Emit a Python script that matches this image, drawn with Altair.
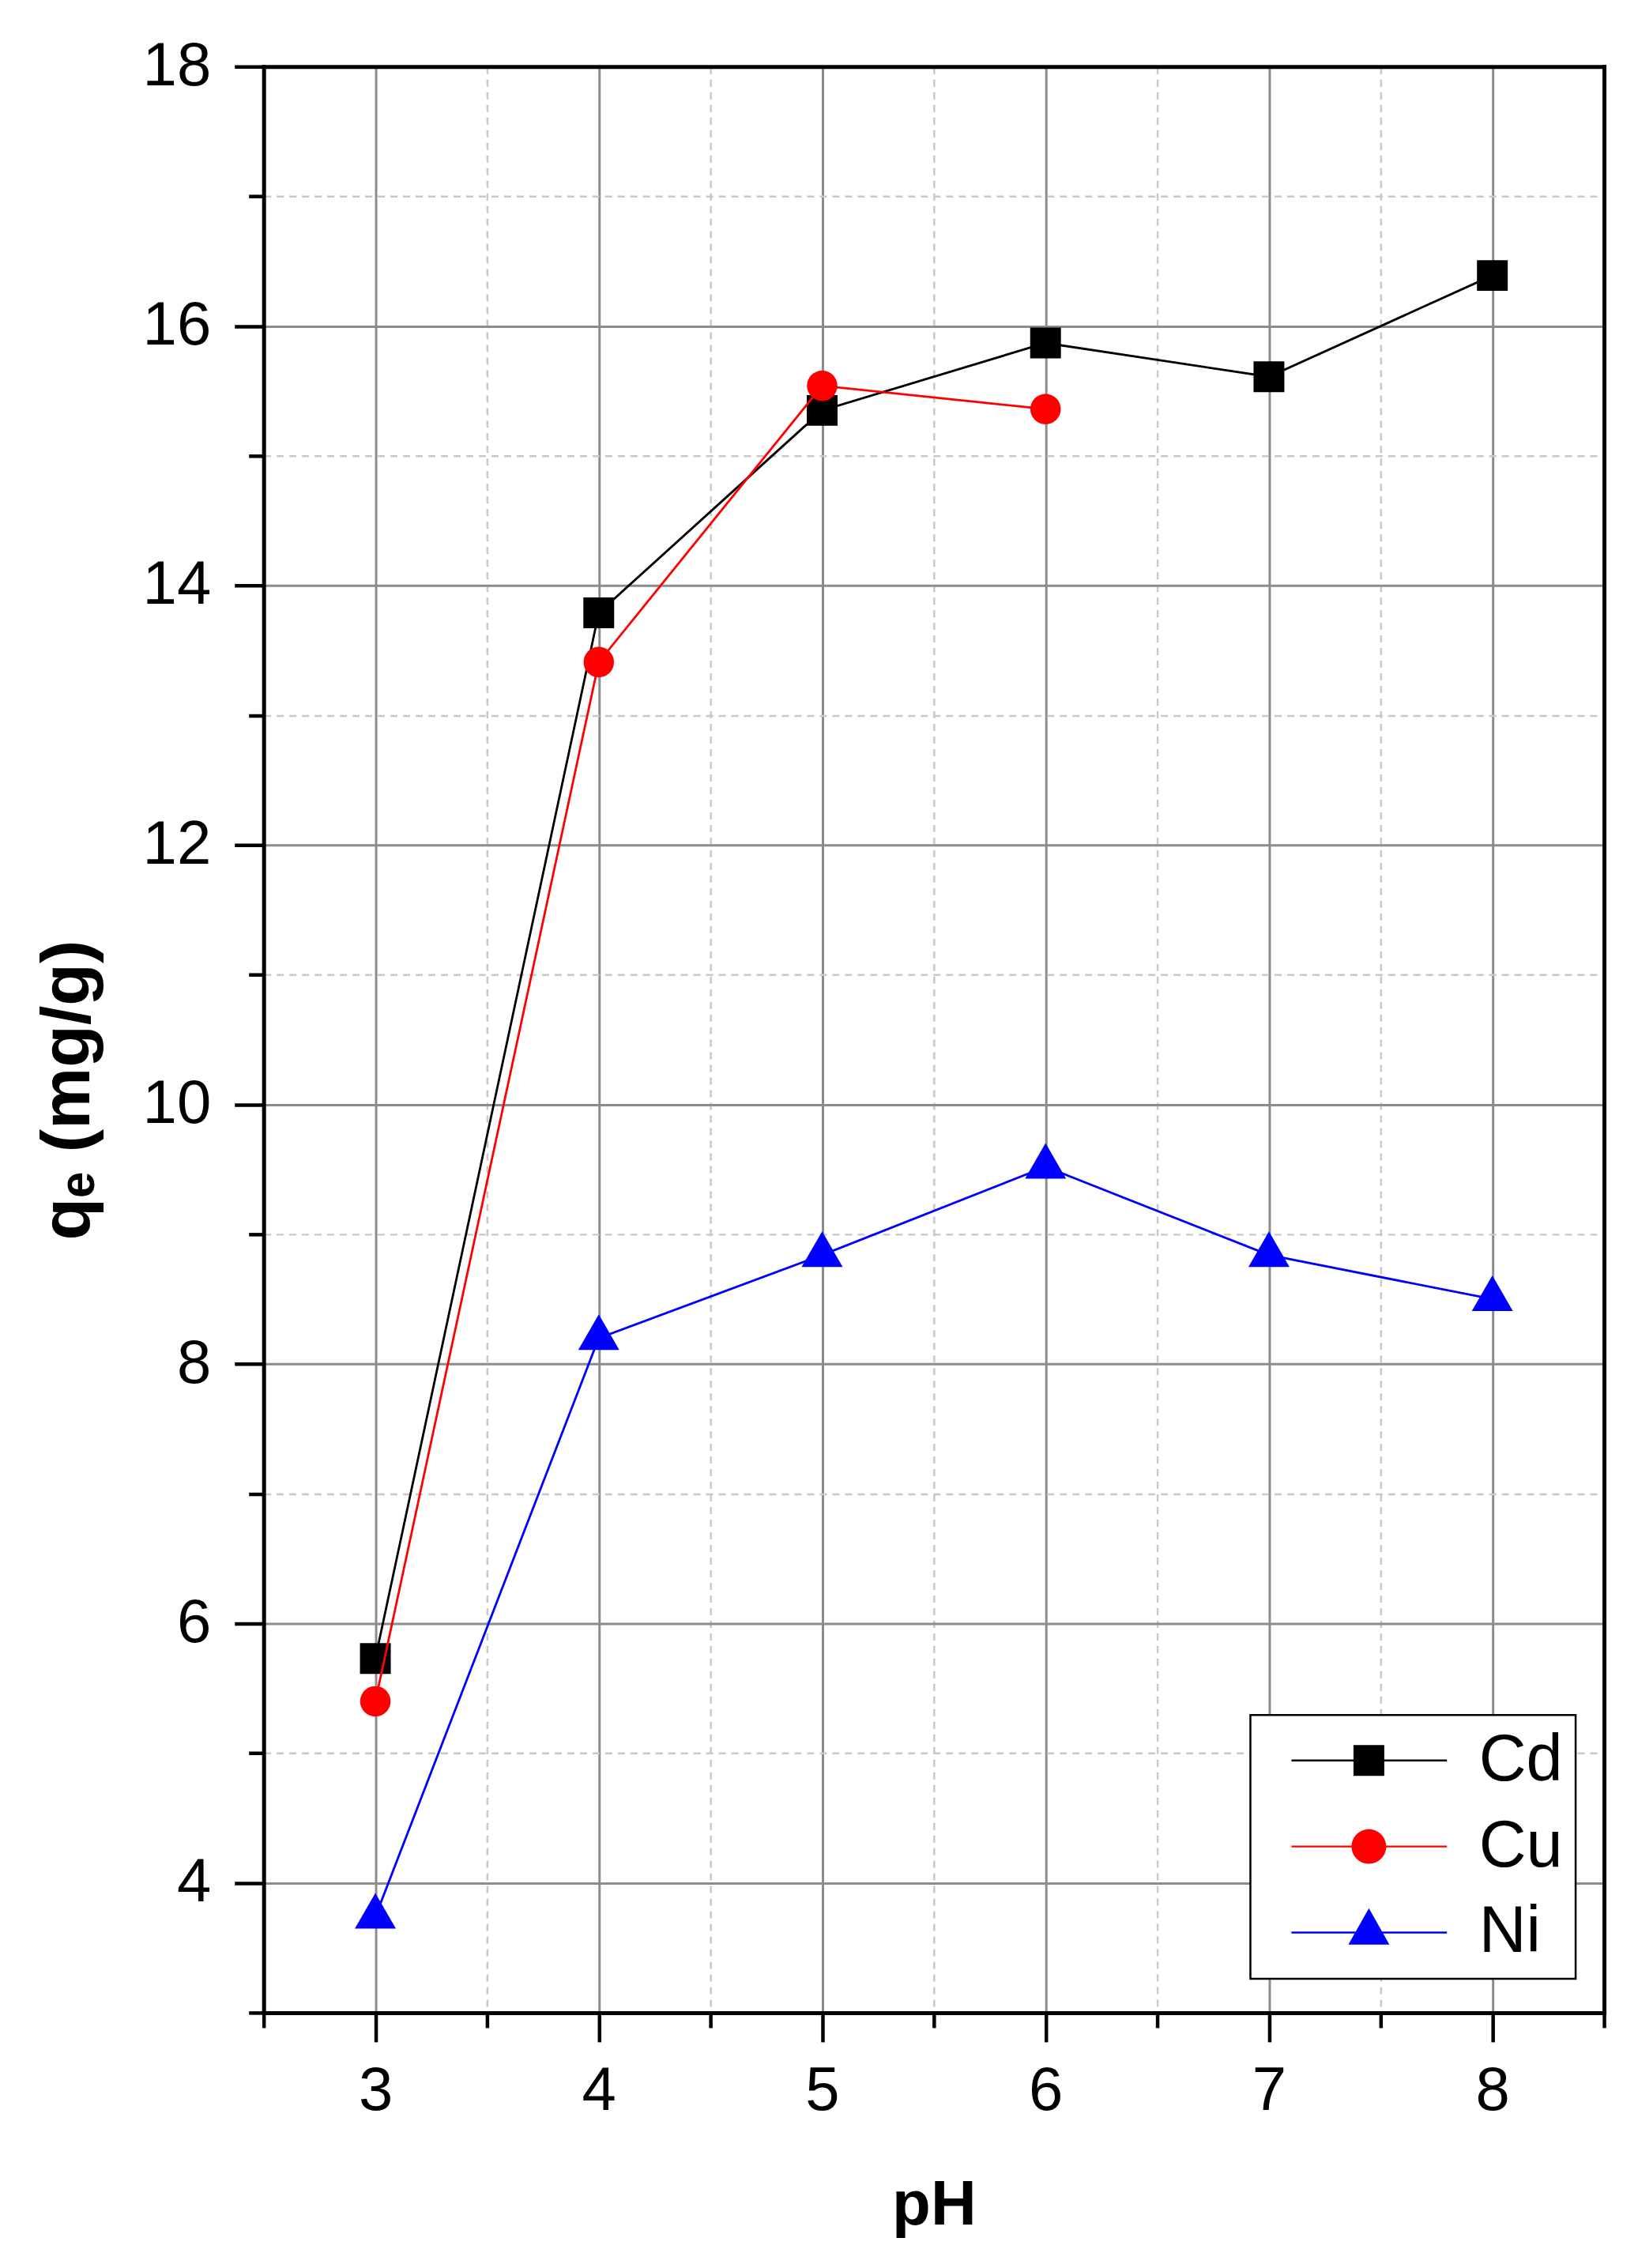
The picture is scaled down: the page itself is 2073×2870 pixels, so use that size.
import altair as alt
import pandas as pd

# ---------------- data ----------------
ph = [3, 4, 5, 6, 7, 8]
cd = [5.73, 13.79, 15.35, 15.87, 15.61, 16.39]
cu_ph = [3, 4, 5, 6]
cu = [5.40, 13.41, 15.54, 15.36]
ni = [3.74, 8.20, 8.84, 9.52, 8.84, 8.50]

series = ["Cd", "Cu", "Ni"]
colors = ["#000000", "#ff0000", "#0000ff"]

x_major = [3, 4, 5, 6, 7, 8]
x_minor = [2.5, 3.5, 4.5, 5.5, 6.5, 7.5, 8.5]
y_major = [4, 6, 8, 10, 12, 14, 16, 18]
y_minor = [3, 5, 7, 9, 11, 13, 15, 17]

rows = []
for x, v in zip(ph, cd):
    rows.append({"pH": x, "qe": v, "series": "Cd"})
for x, v in zip(cu_ph, cu):
    rows.append({"pH": x, "qe": v, "series": "Cu"})
for x, v in zip(ph, ni):
    rows.append({"pH": x, "qe": v, "series": "Ni"})
df = pd.DataFrame(rows)

# ---------------- styling ----------------
W, H = 1698, 2465
FONT = "Liberation Sans"
xs = alt.Scale(domain=[2.5, 8.5], nice=False, zero=False)
ys = alt.Scale(domain=[3, 18], nice=False, zero=False)


def enc_x(axis):
    return alt.X("pH:Q", scale=xs, axis=axis)


def enc_y(axis):
    return alt.Y("qe:Q", scale=ys, axis=axis)


empty = alt.Chart(df).transform_filter("false")

minor_kw = dict(grid=True, gridColor="#c8c8c8", gridWidth=2.5, gridDash=[9, 7],
                ticks=True, tickSize=19, tickWidth=4.5, tickColor="black",
                labels=False, domain=False, title=None)
minor = empty.mark_point(opacity=0).encode(
    x=enc_x(alt.Axis(orient="bottom", values=x_minor, **minor_kw)),
    y=enc_y(alt.Axis(orient="left", values=y_minor, **minor_kw)),
)

major_kw = dict(grid=True, gridColor="#8c8c8c", gridWidth=3,
                ticks=True, tickSize=37, tickWidth=4.5, tickColor="black",
                labels=True, labelFont=FONT, labelFontSize=78, labelColor="black",
                labelFlush=False, labelOverlap=False, format="d",
                domain=False, titleFont=FONT,
                titleFontWeight="bold", titleColor="black")
major = empty.mark_point(opacity=0).encode(
    x=enc_x(alt.Axis(orient="bottom", values=x_major, labelPadding=24,
                     title="pH", titlePadding=66, titleFontSize=80, **major_kw)),
    y=enc_y(alt.Axis(orient="left", values=y_major, labelPadding=30,
                     title="qₑ (mg/g)", titlePadding=50, titleFontSize=88,
                     titleY=1296, **major_kw)),
)

frame_kw = dict(domain=True, domainColor="black", domainWidth=5, domainCap="square",
                ticks=False, labels=False, grid=False, title=None, zindex=1)
frame_a = empty.mark_point(opacity=0).encode(
    x=enc_x(alt.Axis(orient="bottom", **frame_kw)),
    y=enc_y(alt.Axis(orient="left", **frame_kw)),
)
frame_b = empty.mark_point(opacity=0).encode(
    x=enc_x(alt.Axis(orient="top", **frame_kw)),
    y=enc_y(alt.Axis(orient="right", **frame_kw)),
)

# data marks
tri_path = "M0,-1.155L1,0.577L-1,0.577Z"
shapes = ["square", "circle", tri_path]
sizes = [1521, 1486, 2704]

data_layers = []
for s, c, shp, sz in zip(series, colors, shapes, sizes):
    base = alt.Chart(df).transform_filter(alt.datum.series == s)
    line = base.mark_line(color=c, strokeWidth=2.8).encode(
        x=enc_x(None), y=enc_y(None))
    pts = base.mark_point(filled=True, opacity=1, color=c, shape=shp, size=sz,
                          strokeWidth=0).encode(x=enc_x(None), y=enc_y(None))
    data_layers += [line, pts]

# legend: symbols are a line with the marker on it
c0, L, t = 5.03, 10.1, 0.06
bar = f"M0,{-t}H{L}V{t}H0Z"
r = 1.128
leg_paths = [
    bar + f"M{c0 - 1},-1H{c0 + 1}V1H{c0 - 1}Z",
    bar + f"M{c0 + r},0A{r},{r},0,1,1,{c0 - r},0A{r},{r},0,1,1,{c0 + r},0Z",
    bar + f"M{c0},-1.573L{c0 + 1.333},0.786L{c0 - 1.333},0.786Z",
]
leg_kw = dict(orient="none", legendX=1250, legendY=2088, title=None,
              padding=16, symbolOffset=-5.5, labelOffset=196,
              labelFont=FONT, labelFontSize=83, labelColor="black", labelLimit=0,
              rowPadding=25, symbolSize=1521, symbolStrokeWidth=0,
              fillColor="white", strokeColor="black")
legend_layer = empty.mark_point(filled=True, opacity=1).encode(
    x=enc_x(None), y=enc_y(None),
    color=alt.Color("series:N", scale=alt.Scale(domain=series, range=colors),
                    legend=alt.Legend(**leg_kw)),
    shape=alt.Shape("series:N", scale=alt.Scale(domain=series, range=leg_paths),
                    legend=alt.Legend(**leg_kw)),
)

chart = alt.layer(minor, major, frame_a, frame_b, *data_layers, legend_layer).resolve_axis(
    x="independent", y="independent"
).properties(
    width=W, height=H,
    autosize=alt.AutoSizeParams(type="none"),
    padding={"left": 326, "top": 75, "right": 35, "bottom": 314},
    background="white",
).configure_view(strokeWidth=0).configure_legend(strokeWidth=2.5)

chart.save("out.html", embed_options={"renderer": "svg", "actions": False})
